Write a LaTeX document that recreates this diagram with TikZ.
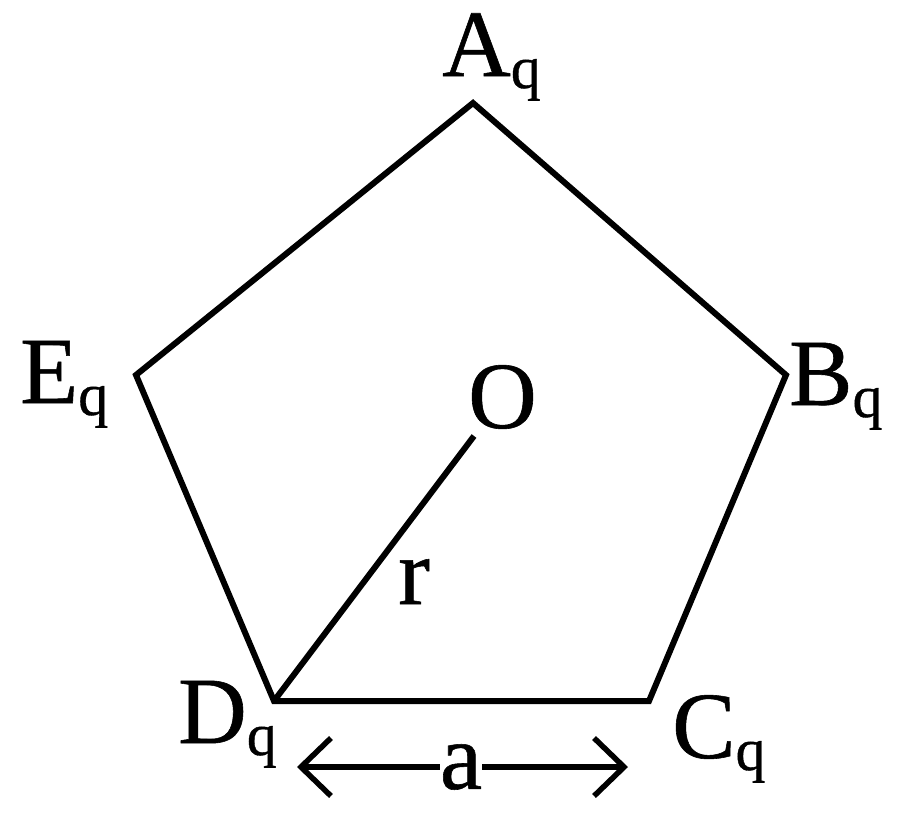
\documentclass[tikz,border=0pt]{standalone}
\usepackage{fontspec}
\setmainfont{Liberation Serif}[FakeBold=0.6]
\usetikzlibrary{arrows.meta}
\begin{document}
\begin{tikzpicture}[x=1pt,y=-1pt,
  edge/.style={line width=6pt,line join=miter},
  lbl/.style={inner sep=0pt,anchor=base west,font=\fontsize{95}{95}\selectfont},
  tip/.style={-{Straight Barb[length=30pt,width=58pt,line width=5.5pt]}}]
\useasboundingbox (0,0) rectangle (900,822);
\coordinate (A) at (473,103);
\coordinate (B) at (786,375);
\coordinate (C) at (649,701);
\coordinate (D) at (274,701);
\coordinate (E) at (136,375);
\coordinate (O) at (474,436);
\draw[edge] (A) -- (B) -- (C) -- (D) -- (E) -- cycle;
\draw[edge] (D) -- (O);
\node[lbl] (la) at (442,76) {A\raisebox{-12pt}{\fontsize{60}{60}\selectfont q}};
\node[lbl] (lb) at (789,405) {B\raisebox{-12pt}{\fontsize{60}{60}\selectfont q}};
\node[lbl] (lc) at (672,758) {C\raisebox{-12pt}{\fontsize{60}{60}\selectfont q}};
\node[lbl] (ld) at (178,743) {D\raisebox{-12pt}{\fontsize{60}{60}\selectfont q}};
\node[lbl] (le) at (20,403) {E\raisebox{-12pt}{\fontsize{60}{60}\selectfont q}};
\node[lbl] (lo) at (468,428) {O};
\node[lbl] (lr) at (398,604) {r};
\node[lbl,anchor=center] (lad) at (461,767) {\raisebox{-20pt}{a}};
\coordinate (p1) at (297,767);
\coordinate (p2) at (628,767);
\draw[line width=5.5pt,tip] (lad.west) -- (p1);
\draw[line width=5.5pt,tip] (lad.east) -- (p2);
\end{tikzpicture}
\end{document}
